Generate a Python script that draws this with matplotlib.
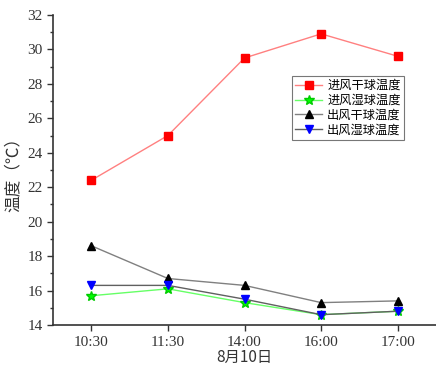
import matplotlib
matplotlib.use("Agg")
import matplotlib.pyplot as plt
from matplotlib.ticker import MultipleLocator

plt.rcParams['font.family'] = ['Liberation Serif', 'Noto Sans CJK SC']

# ── data ──
times = ['10:30', '11:30', '14:00', '16:00', '17:00']
in_dry = [22.4, 25.0, 29.5, 30.9, 29.6]
in_wet = [15.7, 16.1, 15.3, 14.6, 14.8]
out_dry = [18.6, 16.7, 16.3, 15.3, 15.4]
out_wet = [16.3, 16.3, 15.5, 14.6, 14.8]

x = list(range(len(times)))

fig = plt.figure(figsize=(4.36, 3.67), dpi=100)
ax = fig.add_axes([0.1216, 0.1144, 0.8784, 0.845])

ax.plot(x, in_dry, color='#ff8080', lw=1, marker='s', ms=5.5,
        mfc='red', mec='red', label='进风干球温度')
ax.plot(x, in_wet, color='#66ff66', lw=1, marker='*', ms=7,
        mfc='#00ff00', mec='#00cc00', label='进风湿球温度')
ax.plot(x, out_dry, color='#808080', lw=1, marker='^', ms=6,
        mfc='black', mec='black', label='出风干球温度')
ax.plot(x, out_wet, color='#606060', lw=1, marker='v', ms=6,
        mfc='blue', mec='blue', label='出风湿球温度')

ax.set_xlim(-0.5, 4.5)
ax.set_ylim(14, 32)
ax.set_xticks(x)
ax.set_xticklabels(times)
ax.yaxis.set_major_locator(MultipleLocator(2))
ax.yaxis.set_minor_locator(MultipleLocator(1))

for s in ['top', 'right']:
    ax.spines[s].set_visible(False)
for s in ['left', 'bottom']:
    ax.spines[s].set_linewidth(1.2)
    ax.spines[s].set_color('#333333')

ax.tick_params(axis='both', which='major', direction='out', length=4,
               width=1, labelsize=11, colors='#333333')
ax.tick_params(axis='y', which='minor', direction='out', length=2.5, width=1,
               colors='#333333')
ax.tick_params(axis='x', pad=4)

ax.set_ylabel('温度（℃）', fontsize=12, family=['Noto Sans CJK SC'], color='#333333')
ax.set_xlabel('8月10日', fontsize=11, family=['Noto Sans CJK SC'], color='#333333')
ax.yaxis.set_label_coords(-0.081, 0.5)
ax.xaxis.set_label_coords(0.5, -0.104)
ax.xaxis.label.set_va('center')

leg = ax.legend(loc='upper left', bbox_to_anchor=(0.625, 0.803),
                frameon=True, fancybox=False, borderpad=0.25, labelspacing=0.15,
                handlelength=2.2, handletextpad=0.4, borderaxespad=0,
                prop={'family': 'Noto Sans CJK SC', 'size': 8.8})
leg.get_frame().set_edgecolor('#555555')
leg.get_frame().set_linewidth(0.8)

fig.savefig('out.png', dpi=100)
